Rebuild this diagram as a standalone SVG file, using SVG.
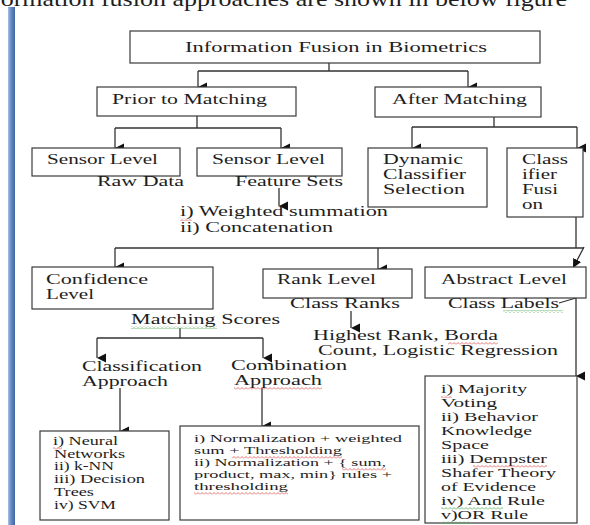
<svg xmlns="http://www.w3.org/2000/svg" width="590" height="525" viewBox="0 0 590 525">
<style>
.box{fill:#fff;stroke:#3a3a3a;stroke-width:1.2}
.t{font-family:"Liberation Serif","Times New Roman",serif;fill:#1e1e1e}
.l{font-size:15px}
.s13{font-size:12px}
.s12{font-size:11px}
.s14{font-size:13px}
.c{fill:none;stroke:#333;stroke-width:1.3}
</style>
<defs>
<linearGradient id="bar" x1="0" y1="0" x2="1" y2="0">
<stop offset="0" stop-color="#a9c1e6"/>
<stop offset="0.35" stop-color="#6f92c9"/>
<stop offset="1" stop-color="#3d64a6"/>
</linearGradient>
<marker id="ah" markerWidth="10" markerHeight="10" refX="5" refY="9" orient="auto" markerUnits="userSpaceOnUse" viewBox="0 0 10 10">
<path d="M0.5,0 L9.5,0 L5,9 Z" fill="#111"/>
</marker>
<marker id="ahs" markerWidth="10" markerHeight="10" refX="9" refY="5" orient="auto" markerUnits="userSpaceOnUse" viewBox="0 0 10 10">
<path d="M0,0.5 L9,5 L0,9.5 Z" fill="#111"/>
</marker>
<pattern id="sqr" width="4" height="3" patternUnits="userSpaceOnUse">
<path d="M0 2.5 L2 0.5 L4 2.5" fill="none" stroke="#d9534f" stroke-width="0.8"/>
</pattern>
<pattern id="sqg" width="4" height="3" patternUnits="userSpaceOnUse">
<path d="M0 2.5 L2 0.5 L4 2.5" fill="none" stroke="#4caf50" stroke-width="0.8"/>
</pattern>
</defs>
<rect width="590" height="525" fill="#fff"/>
<text class="t" x="-8" y="6" font-size="21" textLength="575" lengthAdjust="spacingAndGlyphs">formation fusion approaches are shown in  below figure</text>
<rect x="8" y="7" width="7" height="518" fill="url(#bar)"/>

<g id="connectors">
<path class="c" d="M329,63 V71 M198,71 H468"/>
<path class="c" d="M198,71 V87" marker-end="url(#ah)"/>
<path class="c" d="M468,71 V87" marker-end="url(#ah)"/>
<path class="c" d="M197,116 V128 M115,128 H281"/>
<path class="c" d="M115,128 V148" marker-end="url(#ah)"/>
<path class="c" d="M281,128 V148" marker-end="url(#ah)"/>
<path class="c" d="M494,117 V127 M412,127 H577"/>
<path class="c" d="M412,127 V148" marker-end="url(#ah)"/>
<path class="c" d="M577,127 V148" marker-end="url(#ah)"/>
<path class="c" d="M279,188 V206" marker-end="url(#ah)"/>
<path class="c" d="M576,217 V248 M115,248 H584"/>
<path class="c" d="M115,248 V267" marker-end="url(#ah)"/>
<path class="c" d="M378,248 V269" marker-end="url(#ah)"/>
<path class="c" d="M584,247 L573,268" marker-end="url(#ahs)"/>
<path class="c" d="M351,311 V328" marker-end="url(#ah)"/>
<path class="c" d="M559,303 L576,298 M576,298 V376" marker-end="url(#ah)"/>
<path class="c" d="M180,328 V338 M97,338 H263"/>
<path class="c" d="M97,338 V358" marker-end="url(#ah)"/>
<path class="c" d="M263,338 V358" marker-end="url(#ah)"/>
<path class="c" d="M120,388 V431" marker-end="url(#ah)"/>
<path class="c" d="M262,388 V426" marker-end="url(#ah)"/>
</g>

<g id="n-root">
<rect class="box" x="130" y="31" width="410" height="32"/>
<text class="t l" x="185" y="52" textLength="302" lengthAdjust="spacingAndGlyphs">Information Fusion in Biometrics</text>
</g>
<g id="n-prior">
<rect class="box" x="97" y="87" width="199" height="29"/>
<text class="t l" x="112" y="104" textLength="155" lengthAdjust="spacingAndGlyphs">Prior to Matching</text>
</g>
<g id="n-after">
<rect class="box" x="375" y="87" width="166" height="30"/>
<text class="t l" x="392" y="104" textLength="135" lengthAdjust="spacingAndGlyphs">After Matching</text>
</g>
<g id="n-sensor-raw">
<rect class="box" x="32" y="148" width="148" height="28"/>
<text class="t l" x="47" y="164" textLength="111" lengthAdjust="spacingAndGlyphs">Sensor Level</text>
<text class="t l" x="97" y="186" textLength="87" lengthAdjust="spacingAndGlyphs">Raw Data</text>
</g>
<g id="n-sensor-feat">
<rect class="box" x="197" y="148" width="145" height="28"/>
<text class="t l" x="212" y="164" textLength="113" lengthAdjust="spacingAndGlyphs">Sensor Level</text>
<text class="t l" x="235" y="186" textLength="108" lengthAdjust="spacingAndGlyphs">Feature Sets</text>
</g>
<g id="n-feat-methods">
<text class="t l" x="180" y="216" textLength="208" lengthAdjust="spacingAndGlyphs">i) Weighted summation</text>
<text class="t l" x="180" y="232" textLength="153" lengthAdjust="spacingAndGlyphs">ii) Concatenation</text>
<rect x="180" y="218" width="12" height="3" fill="url(#sqr)"/>
</g>
<g id="n-dynamic">
<rect class="box" x="368" y="148" width="119" height="59"/>
<text class="t l" x="383" y="164" textLength="80" lengthAdjust="spacingAndGlyphs">Dynamic</text>
<text class="t l" x="383" y="179" textLength="83" lengthAdjust="spacingAndGlyphs">Classifier</text>
<text class="t l" x="383" y="194" textLength="82" lengthAdjust="spacingAndGlyphs">Selection</text>
</g>
<g id="n-classfusion">
<rect class="box" x="507" y="148" width="76" height="69"/>
<text class="t l" x="522" y="164" textLength="46" lengthAdjust="spacingAndGlyphs">Class</text>
<text class="t l" x="522" y="179" textLength="35" lengthAdjust="spacingAndGlyphs">ifier</text>
<text class="t l" x="522" y="194" textLength="36" lengthAdjust="spacingAndGlyphs">Fusi</text>
<text class="t l" x="522" y="209" textLength="21" lengthAdjust="spacingAndGlyphs">on</text>
</g>
<g id="n-confidence">
<rect class="box" x="32" y="267" width="181" height="42"/>
<text class="t l" x="46" y="284" textLength="102" lengthAdjust="spacingAndGlyphs">Confidence</text>
<text class="t l" x="46" y="299" textLength="48" lengthAdjust="spacingAndGlyphs">Level</text>
<text class="t l" x="131" y="324" textLength="149" lengthAdjust="spacingAndGlyphs">Matching Scores</text>
<rect x="131" y="326" width="86" height="3" fill="url(#sqg)"/>
</g>
<g id="n-rank">
<rect class="box" x="263" y="269" width="149" height="29"/>
<text class="t l" x="277" y="284" textLength="99" lengthAdjust="spacingAndGlyphs">Rank Level</text>
<text class="t l" x="290" y="308" textLength="110" lengthAdjust="spacingAndGlyphs">Class Ranks</text>
</g>
<g id="n-rank-methods">
<text class="t l" x="313" y="340" textLength="185" lengthAdjust="spacingAndGlyphs">Highest Rank, Borda</text>
<text class="t l" x="318" y="355" textLength="240" lengthAdjust="spacingAndGlyphs">Count, Logistic Regression</text>
<rect x="448" y="342" width="50" height="3" fill="url(#sqr)"/>
</g>
<g id="n-abstract">
<rect class="box" x="425" y="267" width="161" height="31"/>
<text class="t l" x="441" y="284" textLength="126" lengthAdjust="spacingAndGlyphs">Abstract Level</text>
<text class="t l" x="448" y="308" textLength="111" lengthAdjust="spacingAndGlyphs">Class Labels</text>
<rect x="503" y="310" width="60" height="3" fill="url(#sqg)"/>
</g>
<g id="n-classification">
<text class="t l" x="82" y="371" textLength="120" lengthAdjust="spacingAndGlyphs">Classification</text>
<text class="t l" x="82" y="386" textLength="86" lengthAdjust="spacingAndGlyphs">Approach</text>
</g>
<g id="n-combination">
<text class="t l" x="231" y="370" textLength="116" lengthAdjust="spacingAndGlyphs">Combination</text>
<text class="t l" x="234" y="385" textLength="88" lengthAdjust="spacingAndGlyphs">Approach</text>
<rect x="234" y="387" width="88" height="3" fill="url(#sqr)"/>
</g>
<g id="n-classif-list">
<rect class="box" x="40" y="431" width="129" height="89"/>
<text class="t s13" x="53" y="445" textLength="65" lengthAdjust="spacingAndGlyphs">i) Neural</text>
<text class="t s13" x="54" y="458" textLength="71" lengthAdjust="spacingAndGlyphs">Networks</text>
<text class="t s13" x="54" y="470" textLength="60" lengthAdjust="spacingAndGlyphs">ii) k-NN</text>
<text class="t s13" x="54" y="483" textLength="91" lengthAdjust="spacingAndGlyphs">iii) Decision</text>
<text class="t s13" x="54" y="496" textLength="40" lengthAdjust="spacingAndGlyphs">Trees</text>
<text class="t s13" x="54" y="509" textLength="62" lengthAdjust="spacingAndGlyphs">iv) SVM</text>
<rect x="53" y="447" width="9" height="3" fill="url(#sqr)"/>
</g>
<g id="n-comb-list">
<rect class="box" x="180" y="426" width="239" height="94"/>
<text class="t s12" x="194" y="442" textLength="208" lengthAdjust="spacingAndGlyphs">i) Normalization + weighted</text>
<text class="t s12" x="194" y="454" textLength="148" lengthAdjust="spacingAndGlyphs">sum + Thresholding</text>
<text class="t s12" x="194" y="466" textLength="192" lengthAdjust="spacingAndGlyphs">ii) Normalization + { sum,</text>
<text class="t s12" x="194" y="478" textLength="198" lengthAdjust="spacingAndGlyphs">product, max, min} rules +</text>
<text class="t s12" x="194" y="490" textLength="94" lengthAdjust="spacingAndGlyphs">thresholding</text>
<rect x="232" y="456" width="110" height="3" fill="url(#sqr)"/>
<rect x="342" y="468" width="44" height="3" fill="url(#sqr)"/>
<rect x="194" y="492" width="94" height="3" fill="url(#sqr)"/>
</g>
<g id="n-abstract-list">
<rect class="box" x="425" y="376" width="152" height="147"/>
<text class="t s14" x="441" y="393" textLength="86" lengthAdjust="spacingAndGlyphs">i) Majority</text>
<text class="t s14" x="441" y="407" textLength="56" lengthAdjust="spacingAndGlyphs">Voting</text>
<text class="t s14" x="441" y="421" textLength="97" lengthAdjust="spacingAndGlyphs">ii) Behavior</text>
<text class="t s14" x="441" y="435" textLength="91" lengthAdjust="spacingAndGlyphs">Knowledge</text>
<text class="t s14" x="441" y="449" textLength="48" lengthAdjust="spacingAndGlyphs">Space</text>
<text class="t s14" x="441" y="463" textLength="106" lengthAdjust="spacingAndGlyphs">iii) Dempster</text>
<text class="t s14" x="441" y="477" textLength="115" lengthAdjust="spacingAndGlyphs">Shafer Theory</text>
<text class="t s14" x="441" y="491" textLength="95" lengthAdjust="spacingAndGlyphs">of Evidence</text>
<text class="t s14" x="441" y="505" textLength="104" lengthAdjust="spacingAndGlyphs">iv) And Rule</text>
<text class="t s14" x="441" y="519" textLength="87" lengthAdjust="spacingAndGlyphs">v)OR Rule</text>
<rect x="441" y="395" width="11" height="3" fill="url(#sqr)"/>
<rect x="473" y="465" width="74" height="3" fill="url(#sqr)"/>
<rect x="441" y="507" width="62" height="3" fill="url(#sqg)"/>
<rect x="441" y="521" width="30" height="3" fill="url(#sqg)"/>
</g>
</svg>
